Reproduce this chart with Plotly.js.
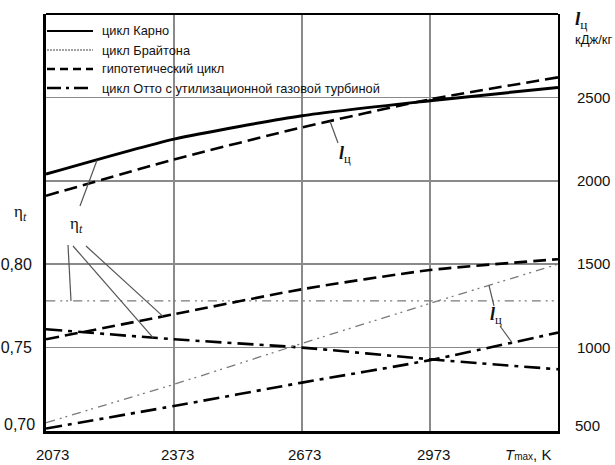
<!DOCTYPE html>
<html><head><meta charset="utf-8">
<script src="https://cdn.plot.ly/plotly-3.0.1.min.js"></script>
<style>html,body{margin:0;padding:0;background:#fff}#chart{width:615px;height:465px}</style>
</head><body><div id="chart"></div>
<script>
// ---- data ----
const tmax       = [2073, 2373, 2673, 2973, 3273];
const etaCarnot  = [0.854, 0.875, 0.889, 0.898, 0.906];
const etaHypo    = [0.755, 0.770, 0.785, 0.7965, 0.803];
const etaOtto    = [0.761, 0.755, 0.750, 0.743, 0.737];
const etaBrayton = [0.778, 0.778, 0.778, 0.778, 0.778];
const lHypo      = [1910, 2128, 2320, 2488, 2620];
const lBrayton   = [550, 780, 1025, 1265, 1500];
const lOtto      = [515, 650, 790, 925, 1090];
const xTickLabels = ['2073', '2373', '2673', '2973'];
const etaTicks    = [0.70, 0.75, 0.80, 0.85, 0.90];
const etaTickText = ['0,70', '0,75', '0,80', '', ''];
const lTicks      = [500, 1000, 1500, 2000, 2500];
const legendNames = ['цикл Карно', 'цикл Брайтона', 'гипотетический цикл', 'цикл Отто с утилизационной газовой турбиной'];

// ---- geometry / styles ----
const W = 615, H = 465, L = 46, R = 558, T = 14, B = 431;
const X0 = 2073, X1 = 3273, Y0 = 0.70, Y1 = 0.95, Z0 = 500, Z1 = 3000;
const SANS = 'Liberation Sans Narrow, Arial Narrow, Liberation Sans, Arial, sans-serif';
const SERIF = 'Liberation Serif, Times New Roman, serif';
const GRID = '#8a8a8a';
const styles = {
  carnot:  {color: '#000', width: 3, dash: 'solid'},
  brayton: {color: '#7a7a7a', width: 1.3, dash: '9px,5px,2px,4px,2px,5px'},
  hypo:    {color: '#000', width: 2.6, dash: '13px,6px'},
  otto:    {color: '#000', width: 2.6, dash: '16px,6px,4px,6px'}
};
const px2x = p => X0 + (p - L) * (X1 - X0) / (R - L);
const py2y = p => Y0 + (B - p) * (Y1 - Y0) / (B - T);
const py2z = p => Z0 + (B - p) * (Z1 - Z0) / (B - T);
const pxp = p => (p - L) / (R - L);
const pyp = p => (B - p) / (B - T);
function interp(xs, ys, x) {
  for (let i = 0; i < xs.length - 1; i++) {
    if (x >= xs[i] && x <= xs[i + 1]) return ys[i] + (ys[i + 1] - ys[i]) * (x - xs[i]) / (xs[i + 1] - xs[i]);
  }
  return ys[ys.length - 1];
}

function tr(y, st, axis, name) {
  return {x: tmax, y: y, type: 'scatter', mode: 'lines', yaxis: axis, name: name, showlegend: false,
          line: {color: st.color, width: st.width, dash: st.dash, shape: 'spline', smoothing: 0.6},
          hoverinfo: 'skip'};
}
const data = [
  tr(etaCarnot, styles.carnot, 'y', legendNames[0]),
  tr(etaBrayton, styles.brayton, 'y', legendNames[1]),
  tr(lBrayton, styles.brayton, 'y2', legendNames[1]),
  tr(etaHypo, styles.hypo, 'y', legendNames[2]),
  tr(lHypo, styles.hypo, 'y2', legendNames[2]),
  tr(etaOtto, styles.otto, 'y', legendNames[3]),
  tr(lOtto, styles.otto, 'y2', legendNames[3])
];

const shapes = [];
const annotations = [];
// legend background (white boxes hiding grid)
shapes.push({type: 'rect', xref: 'paper', yref: 'paper', x0: pxp(L + 1), x1: pxp(98), y0: pyp(94), y1: pyp(20),
             fillcolor: '#fff', line: {width: 0}, layer: 'between'});
shapes.push({type: 'rect', xref: 'paper', yref: 'paper', x0: pxp(98), x1: pxp(381), y0: pyp(100), y1: pyp(20),
             fillcolor: '#fff', line: {width: 0}, layer: 'between'});
// legend samples & texts
const legRows = [31, 50, 69, 88];
legendNames.forEach((n, i) => {
  const w = i === 0 ? 2.2 : (i === 1 ? 1 : 2.4);
  const dash = i === 1 ? '2px,1px' : (i === 2 ? '8px,5px' : (i === 3 ? '14px,5px,3px,5px' : 'solid'));
  shapes.push({type: 'line', xref: 'paper', yref: 'paper', x0: pxp(47), x1: pxp(93), y0: pyp(legRows[i]), y1: pyp(legRows[i]),
               line: {color: i === 1 ? '#444' : '#000', width: w, dash: dash}, layer: 'above'});
  annotations.push({xref: 'paper', yref: 'paper', x: pxp(100), y: pyp(legRows[i]), xanchor: 'left', yanchor: 'middle',
                    text: n, showarrow: false, font: {family: SANS, size: 12.8, color: '#111'}});
});
// top frame line
shapes.push({type: 'line', xref: 'paper', yref: 'paper', x0: 0, x1: 1, y0: 1, y1: 1, line: {color: '#000', width: 2}, layer: 'above'});

// x tick labels
const xLabPx = [52, 177, 304, 433];
xTickLabels.forEach((t, i) => annotations.push({xref: 'paper', yref: 'paper', x: pxp(xLabPx[i]), y: pyp(454),
  xanchor: 'center', yanchor: 'middle', text: t, showarrow: false, font: {family: SANS, size: 15, color: '#111'}}));
annotations.push({xref: 'paper', yref: 'paper', x: pxp(503), y: pyp(454), xanchor: 'left', yanchor: 'middle',
  text: '<i>T</i><span style="font-size:10px">max</span>, K', showarrow: false, font: {family: SANS, size: 15, color: '#111'}});
// bottom y labels (raised above the x axis as in the reference)
annotations.push({xref: 'paper', yref: 'paper', x: pxp(37), y: pyp(424), xanchor: 'right', yanchor: 'middle',
  text: '0,70', showarrow: false, font: {family: SANS, size: 16, color: '#111'}});
annotations.push({xref: 'paper', yref: 'paper', x: pxp(573), y: pyp(425), xanchor: 'left', yanchor: 'middle',
  text: String(lTicks[0]), showarrow: false, font: {family: SANS, size: 15, color: '#111'}});
// axis titles
annotations.push({xref: 'paper', yref: 'paper', x: pxp(20), y: pyp(213), xanchor: 'center', yanchor: 'middle',
  text: 'η<sub><i>t</i></sub>', showarrow: false, font: {family: SERIF, size: 17, color: '#111'}});
annotations.push({xref: 'paper', yref: 'paper', x: pxp(573), y: pyp(20), xanchor: 'left', yanchor: 'middle',
  text: '<i><b>l</b></i><sub>ц</sub>', showarrow: false, font: {family: SERIF, size: 19, color: '#111'}});
annotations.push({xref: 'paper', yref: 'paper', x: pxp(573), y: pyp(40), xanchor: 'left', yanchor: 'middle',
  text: 'кДж/кг', showarrow: false, font: {family: SANS, size: 13, color: '#111'}});
// curve labels
annotations.push({xref: 'paper', yref: 'paper', x: pxp(76), y: pyp(225), xanchor: 'center', yanchor: 'middle',
  text: 'η<sub><i>t</i></sub>', showarrow: false, font: {family: SERIF, size: 17, color: '#111'}});
annotations.push({xref: 'paper', yref: 'paper', x: pxp(345), y: pyp(154), xanchor: 'center', yanchor: 'middle',
  text: '<i><b>l</b></i><sub>ц</sub>', showarrow: false, font: {family: SERIF, size: 18, color: '#111'}});
annotations.push({xref: 'paper', yref: 'paper', x: pxp(496), y: pyp(315), xanchor: 'center', yanchor: 'middle',
  text: '<i><b>l</b></i><sub>ц</sub>', showarrow: false, font: {family: SERIF, size: 18, color: '#111'}});

// leader lines from labels to curves
function leaderY(pxA, pyA, pxC, series) {
  const xc = px2x(pxC);
  shapes.push({type: 'line', xref: 'x', yref: 'y', x0: px2x(pxA), y0: py2y(pyA), x1: xc, y1: interp(tmax, series, xc),
               line: {color: '#555', width: 1.2}, layer: 'above'});
}
function leaderZ(pxA, pyA, pxC, series) {
  const xc = px2x(pxC);
  shapes.push({type: 'line', xref: 'x', yref: 'y2', x0: px2x(pxA), y0: py2z(pyA), x1: xc, y1: interp(tmax, series, xc),
               line: {color: '#555', width: 1.2}, layer: 'above'});
}
leaderY(80, 206, 97, etaCarnot);
leaderY(68, 245, 71, etaBrayton);
leaderY(73, 246, 153, etaOtto);
leaderY(86, 246, 163, etaHypo);
leaderZ(338, 143, 330, lHypo);
leaderZ(494, 306, 489, lBrayton);
leaderZ(500, 326, 512, lOtto);

const layout = {
  width: W, height: H, margin: {l: L, r: W - R, t: T, b: H - B, pad: 0},
  paper_bgcolor: '#fff', plot_bgcolor: '#fff', showlegend: false,
  font: {family: SANS, size: 15, color: '#111'},
  xaxis: {range: [X0, X1], tickvals: [2073, 2373, 2673, 2973], showticklabels: false, ticks: '',
          showgrid: true, gridcolor: GRID, gridwidth: 1.6, zeroline: false,
          showline: true, linecolor: '#000', linewidth: 3},
  yaxis: {range: [Y0, Y1], tickvals: etaTicks, ticktext: ['', etaTickText[1], etaTickText[2], '', ''], ticks: '', ticklabelstandoff: 8,
          showgrid: true, gridcolor: GRID, gridwidth: 1.6, zeroline: false,
          showline: true, linecolor: '#000', linewidth: 3, tickfont: {family: SANS, size: 16, color: '#111'}},
  yaxis2: {range: [Z0, Z1], overlaying: 'y', side: 'right', tickvals: lTicks, ticktext: lTicks.map((v, i) => i === 0 ? '' : String(v)),
           ticks: '', ticklabelstandoff: 14,
           showgrid: false, zeroline: false, showline: true, linecolor: '#000', linewidth: 2,
           tickfont: {family: SANS, size: 15, color: '#111'}},
  shapes: shapes, annotations: annotations
};
Plotly.newPlot('chart', data, layout, {staticPlot: true, displayModeBar: false});
</script></body></html>
